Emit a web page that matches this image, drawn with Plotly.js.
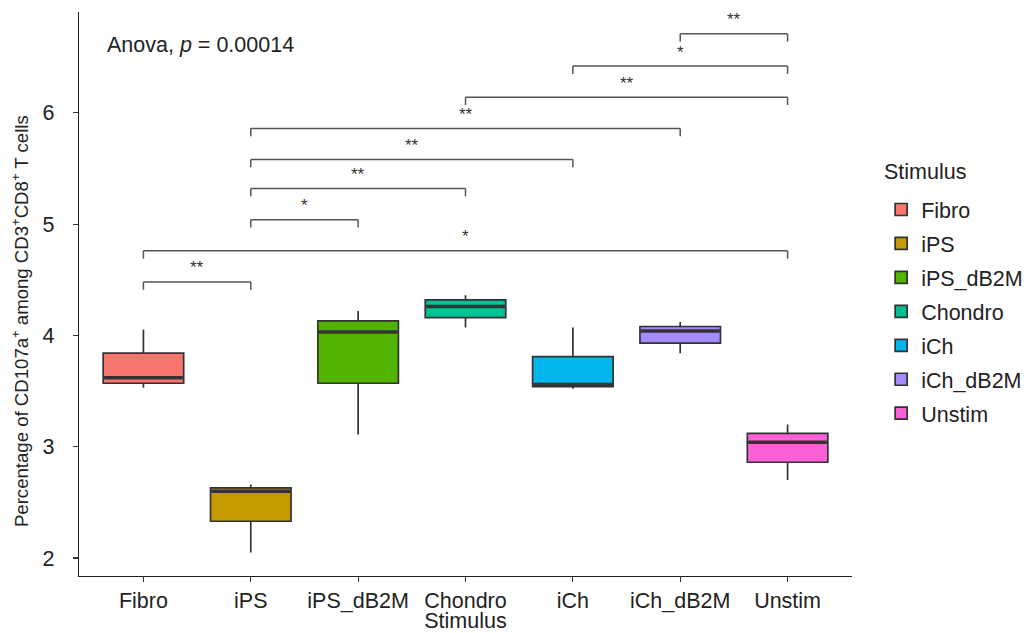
<!DOCTYPE html>
<html>
<head>
<meta charset="utf-8">
<script src="https://cdn.plot.ly/plotly-3.0.1.min.js"></script>
<style>html,body{margin:0;padding:0;background:#fff;}#chart{width:1027px;height:633px;}</style>
</head>
<body>
<div id="chart"></div>
<script>
// ---- data ----
const categories = ['Fibro', 'iPS', 'iPS_dB2M', 'Chondro', 'iCh', 'iCh_dB2M', 'Unstim'];
const boxColors = ['#F8766D', '#C49A00', '#53B400', '#00C094', '#00B6EB', '#A58AFF', '#FB61D7'];
const upperWhisker = [4.05, 2.66, 4.22, 4.36, 4.07, 4.12, 3.20];
const q3Values     = [3.84, 2.63, 4.13, 4.32, 3.81, 4.08, 3.12];
const medianValues = [3.62, 2.60, 4.03, 4.26, 3.56, 4.04, 3.04];
const q1Values     = [3.57, 2.33, 3.57, 4.16, 3.54, 3.93, 2.86];
const lowerWhisker = [3.53, 2.05, 3.11, 4.07, 3.52, 3.84, 2.70];

const compareA = ['Fibro', 'Fibro', 'iPS', 'iPS', 'iPS', 'iPS', 'Chondro', 'iCh', 'iCh_dB2M'];
const compareB = ['iPS', 'Unstim', 'iPS_dB2M', 'Chondro', 'iCh', 'iCh_dB2M', 'Unstim', 'Unstim', 'Unstim'];
const signifLabels = ['**', '*', '*', '**', '**', '**', '**', '*', '**'];
const bracketHeights = [4.48, 4.76, 5.04, 5.32, 5.58, 5.86, 6.14, 6.42, 6.71];
const yTickValues = [2, 3, 4, 5, 6];
const anovaText = 'Anova, <i>p</i> = 0.00014';
const xTitle = 'Stimulus';
const yTitle = 'Percentage of CD107a<sup>+</sup> among CD3<sup>+</sup>CD8<sup>+</sup> T cells';
const legendTitle = 'Stimulus';

// ---- build chart ----
const FONT = 'Liberation Sans, Arial, Helvetica, sans-serif';
const TXT = '#222222';
const FS = 21.5;
const BOXW = 0.75;
const traces = categories.map((c, i) => ({
  type: 'box',
  name: c,
  legendgroup: c,
  x: [c],
  q1: [q1Values[i]],
  median: [medianValues[i]],
  q3: [q3Values[i]],
  lowerfence: [lowerWhisker[i]],
  upperfence: [upperWhisker[i]],
  width: BOXW,
  whiskerwidth: 0,
  fillcolor: boxColors[i],
  line: {color: '#333333', width: 1.7},
  hoverinfo: 'skip',
  showlegend: true
}));

const shapes = [];
// thicker median lines like ggplot
categories.forEach((c, i) => {
  shapes.push({type: 'line', xref: 'x', yref: 'y',
    x0: i - BOXW / 2 + 0.01, x1: i + BOXW / 2 - 0.01, y0: medianValues[i], y1: medianValues[i],
    line: {color: '#333333', width: 3.4}});
});
// significance brackets
const tipLen = 0.07;
const annotations = [];
compareA.forEach((a, k) => {
  const xa = categories.indexOf(a), xb = categories.indexOf(compareB[k]);
  const yb = bracketHeights[k];
  const ln = {color: '#555555', width: 1.5};
  shapes.push({type: 'line', xref: 'x', yref: 'y', x0: xa, x1: xb, y0: yb, y1: yb, line: ln});
  shapes.push({type: 'line', xref: 'x', yref: 'y', x0: xa, x1: xa, y0: yb, y1: yb - tipLen, line: ln});
  shapes.push({type: 'line', xref: 'x', yref: 'y', x0: xb, x1: xb, y0: yb, y1: yb - tipLen, line: ln});
  annotations.push({xref: 'x', yref: 'y', x: (xa + xb) / 2, y: yb, text: signifLabels[k],
    showarrow: false, xanchor: 'center', yanchor: 'middle', yshift: 14,
    font: {family: FONT, size: 17, color: '#333333'}});
});
annotations.push({xref: 'paper', yref: 'paper', x: 0.033, y: 0.9415, text: anovaText,
  showarrow: false, xanchor: 'left', yanchor: 'middle',
  font: {family: FONT, size: FS, color: TXT}});
// y-axis title
annotations.push({xref: 'paper', yref: 'paper', x: -0.0763, y: 0.452, text: yTitle,
  textangle: -90, showarrow: false, xanchor: 'center', yanchor: 'middle',
  font: {family: FONT, size: 18.6, color: TXT}});
// legend title
annotations.push({xref: 'paper', yref: 'paper', x: 1.0385, y: 0.716, text: legendTitle,
  showarrow: false, xanchor: 'left', yanchor: 'middle',
  font: {family: FONT, size: FS, color: TXT}});

const layout = {
  width: 1027, height: 633,
  margin: {l: 79, r: 175, t: 12, b: 57, pad: 0, autoexpand: false},
  paper_bgcolor: '#ffffff', plot_bgcolor: '#ffffff',
  font: {family: FONT, size: FS, color: TXT},
  boxmode: 'overlay',
  showlegend: true,
  xaxis: {
    type: 'category', categoryorder: 'array', categoryarray: categories,
    range: [-0.6, categories.length - 0.4],
    showline: true, linecolor: '#222222', linewidth: 1.3,
    ticks: 'outside', ticklen: 5, tickcolor: '#333333', tickwidth: 1.2,
    showgrid: false, zeroline: false,
    tickfont: {family: FONT, size: FS, color: TXT},
    title: {text: xTitle, font: {family: FONT, size: FS, color: TXT}, standoff: 5}
  },
  yaxis: {
    range: [1.838, 6.906],
    tickvals: yTickValues, ticktext: yTickValues.map(String),
    showline: true, linecolor: '#222222', linewidth: 1.3,
    ticks: 'outside', ticklen: 5, tickcolor: '#333333', tickwidth: 1.2,
    ticklabelstandoff: 14,
    showgrid: false, zeroline: false,
    tickfont: {family: FONT, size: FS, color: TXT}
  },
  legend: {
    x: 1.0377, y: 0.6861, xanchor: 'left', yanchor: 'top',
    font: {family: FONT, size: FS, color: TXT},
    tracegroupgap: 3, bgcolor: 'rgba(0,0,0,0)', traceorder: 'grouped'
  },
  shapes: shapes,
  annotations: annotations
};

Plotly.newPlot('chart', traces, layout, {displayModeBar: false, staticPlot: true});
</script>
</body>
</html>
